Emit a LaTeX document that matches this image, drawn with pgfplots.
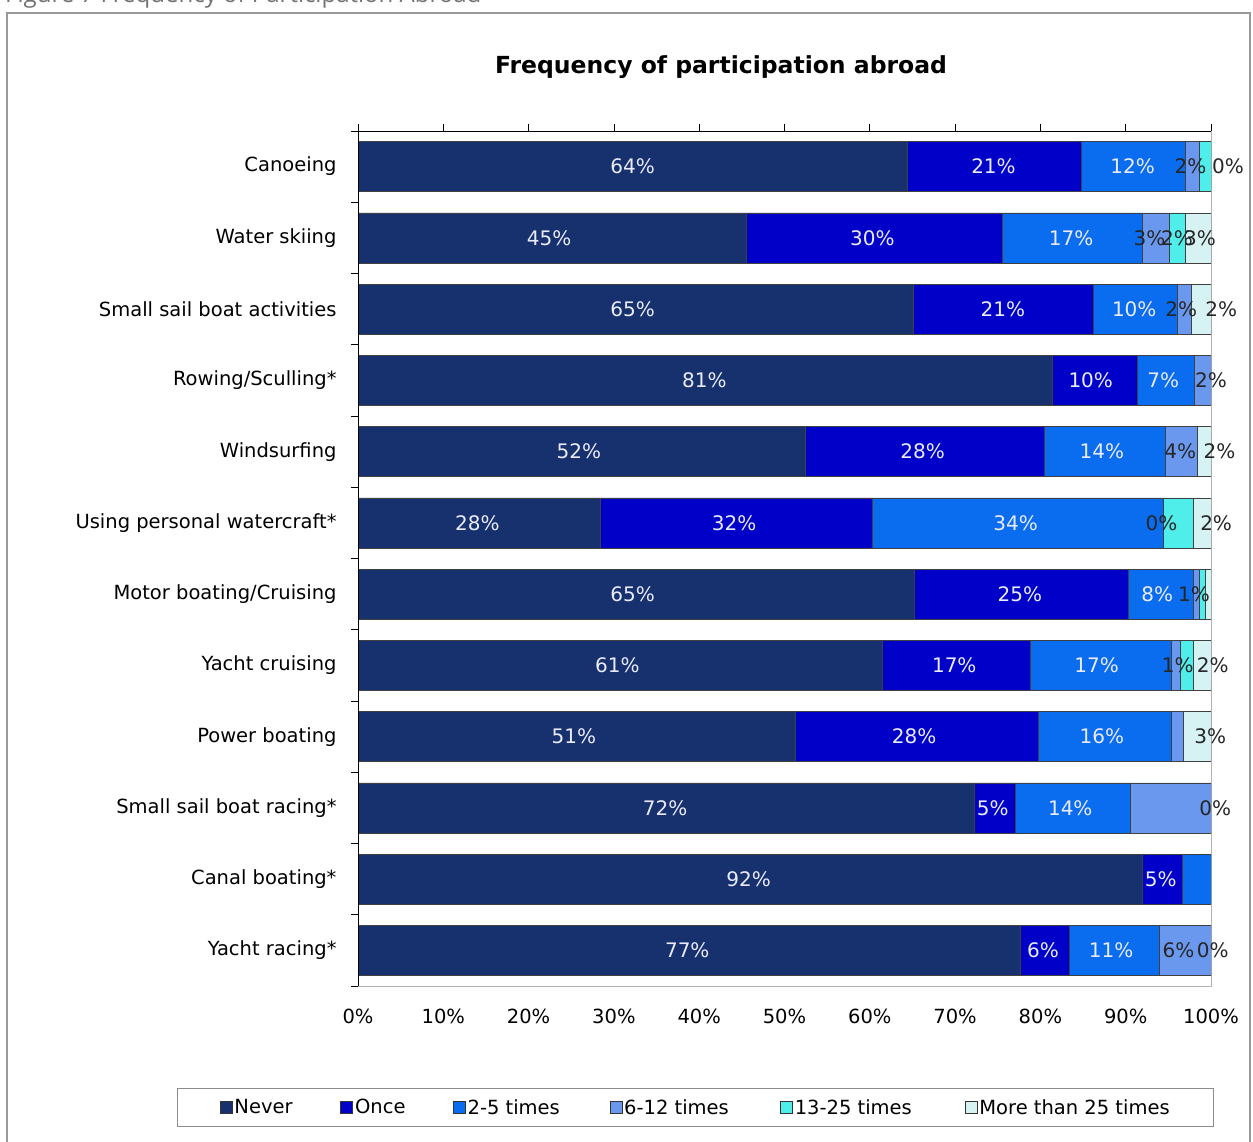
\documentclass[border=0pt]{standalone}
\usepackage{pgfplots}
\pgfplotsset{compat=1.18}
\usepackage{pgfplotstable}
\usepackage{fontspec}
\setmainfont{DejaVu Sans}
\newfontfamily\capfont{Open Sans}
\definecolor{cNever}{HTML}{17316F}
\definecolor{cOnce}{HTML}{0000C8}
\definecolor{cTwo}{HTML}{0A6CEE}
\definecolor{cSix}{HTML}{6A98EE}
\definecolor{cThir}{HTML}{50EEEA}
\definecolor{cMore}{HTML}{D6F2F2}
\pgfplotsset{ser/.style={fill=#1, draw=black!75, line width=0.6bp}}
\pgfplotstableread{
y never once two six thir more
0 64.4 20.4 12.2 1.6 1.4 0
1 45.5 30.0 16.5 3.1 1.9 3.0
2 65.1 21.1 9.9 1.6 0 2.3
3 81.4 9.9 6.7 2.0 0 0
4 52.4 28.1 14.1 3.8 0 1.6
5 28.4 31.9 34.1 0 3.5 2.1
6 65.2 25.1 7.6 0.7 0.7 0.7
7 61.5 17.3 16.5 1.1 1.5 2.1
8 51.3 28.5 15.5 1.4 0 3.3
9 72.3 4.7 13.5 9.5 0 0
10 92.0 4.6 3.4 0 0 0
11 77.6 5.8 10.5 6.1 0 0
}\data
\begin{document}
\begin{tikzpicture}[x=1bp,y=1bp]
\useasboundingbox (0,0) rectangle (1253,1142);
\clip (0,0) rectangle (1253,1142);
\fill[white] (0,0) rectangle (1253,1142);
\node[anchor=base west, text=black!55, font=\capfont\fontsize{24bp}{28bp}\selectfont, inner sep=0] at (5,1139) {Figure 7 Frequency of Participation Abroad};
\draw[black!40, line width=1.2bp] (7,-10) rectangle (1250,1129);
\node[font=\bfseries\fontsize{23.5bp}{27bp}\selectfont] at (721,1075) {Frequency of participation abroad};
\begin{axis}[name=main, at={(358bp,156bp)}, anchor=south west,
  scale only axis, width=853bp, height=855bp,
  xbar stacked, bar width=50bp,
  xmin=0, xmax=100, ymin=-0.5, ymax=11.5, y dir=reverse,
  axis line style={black!30, line width=0.8bp},
  xtick={0,10,...,100}, xtick pos=right, xticklabel pos=left,
  xticklabel={\pgfmathprintnumber{\tick}\%},
  tick align=outside, major tick length=7bp,
  tick style={black, line width=0.7bp},
  ytick={-0.5,0.5,...,11.5}, yticklabels={}, ytick pos=left,
  extra y ticks={0,1,...,11},
  extra y tick labels={Canoeing,Water skiing,Small sail boat activities,Rowing/Sculling*,Windsurfing,Using personal watercraft*,Motor boating/Cruising,Yacht cruising,Power boating,Small sail boat racing*,Canal boating*,Yacht racing*},
  extra y tick style={major tick length=0pt},
  /pgf/number format/assume math mode=true,
  tick label style={font=\fontsize{19.5bp}{23bp}\selectfont, text=black},
  yticklabel style={xshift=-18bp},
  xticklabel style={yshift=-12bp},
  legend columns=6,
  legend style={at={(0.396,-0.142)}, anchor=center, draw=black!45, line width=0.8bp, font=\fontsize{19.5bp}{23bp}\selectfont, inner xsep=42bp, inner ysep=9bp, /tikz/every even column/.append style={column sep=0bp}},
  legend image code/.code={\draw[#1, draw=black!80, line width=0.6bp] (0bp,-6bp) rectangle (12bp,6bp);},
]
\addplot[ser=cNever] table[x=never, y=y] {\data};
\addplot[ser=cOnce] table[x=once, y=y] {\data};
\addplot[ser=cTwo] table[x=two, y=y] {\data};
\addplot[ser=cSix] table[x=six, y=y] {\data};
\addplot[ser=cThir] table[x=thir, y=y] {\data};
\addplot[ser=cMore] table[x=more, y=y] {\data};
\addlegendentry{\makebox[104bp][l]{Never}}
\addlegendentry{\makebox[96bp][l]{Once}}
\addlegendentry{\makebox[140bp][l]{2-5 times}}
\addlegendentry{\makebox[154bp][l]{6-12 times}}
\addlegendentry{\makebox[168bp][l]{13-25 times}}
\addlegendentry{More than 25 times}
\end{axis}
\draw[black, line width=0.9bp] (main.south west) -- (main.north west) -- (main.north east);
\begin{axis}[at={(358bp,156bp)}, anchor=south west,
  scale only axis, width=853bp, height=855bp,
  xmin=0, xmax=100, ymin=-0.5, ymax=11.5, y dir=reverse,
  hide axis, clip=false]
\addplot[draw=none, mark=none, nodes near coords, point meta=explicit symbolic, nodes near coords align=center,
  every node near coord/.append style={text=white!92!blue, font=\fontsize{20bp}{23bp}\selectfont, inner sep=0pt}]
coordinates {
(32.2,0)[64\%] (74.5,0)[21\%] (90.8,0)[12\%]
(22.4,1)[45\%] (60.3,1)[30\%] (83.6,1)[17\%]
(32.2,2)[65\%] (75.6,2)[21\%] (91,2)[10\%]
(40.6,3)[81\%] (85.9,3)[10\%] (94.4,3)[7\%]
(25.9,4)[52\%] (66.2,4)[28\%] (87.2,4)[14\%]
(14,5)[28\%] (44.1,5)[32\%] (77.1,5)[34\%]
(32.2,6)[65\%] (77.6,6)[25\%] (93.7,6)[8\%]
(30.4,7)[61\%] (69.9,7)[17\%] (86.6,7)[17\%]
(25.3,8)[51\%] (65.2,8)[28\%] (87.2,8)[16\%]
(36,9)[72\%] (74.4,9)[5\%] (83.5,9)[14\%]
(45.8,10)[92\%] (94.1,10)[5\%]
(38.6,11)[77\%] (80.3,11)[6\%] (88.3,11)[11\%]
};
\addplot[draw=none, mark=none, nodes near coords, point meta=explicit symbolic, nodes near coords align=center,
  every node near coord/.append style={text=black!85, font=\fontsize{20bp}{23bp}\selectfont, inner sep=0pt}]
coordinates {
(97.6,0)[2\%] (102,0)[0\%]
(92.8,1)[3\%] (96,1)[2\%] (98.7,1)[3\%]
(96.5,2)[2\%] (101.2,2)[2\%]
(100,3)[2\%]
(96.4,4)[4\%] (101,4)[2\%]
(94.2,5)[0\%] (100.6,5)[2\%]
(98,6)[1\%]
(96.1,7)[1\%] (100.2,7)[2\%]
(99.9,8)[3\%]
(100.5,9)[0\%]
(96.2,11)[6\%] (100.2,11)[0\%]
};
\end{axis}
\end{tikzpicture}
\end{document}
